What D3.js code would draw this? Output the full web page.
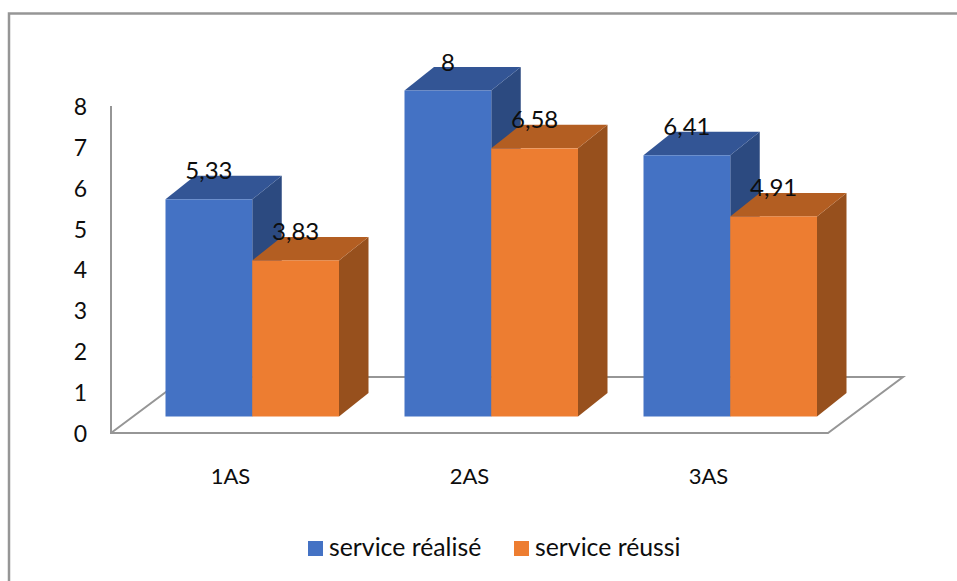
<!DOCTYPE html>
<html>
<head>
<meta charset="utf-8">
<script src="https://cdn.jsdelivr.net/npm/d3@7"></script>
<style>
  html, body { margin: 0; padding: 0; background: #fff; }
  svg { display: block; }
  text { font-family: Lato, "Open Sans", sans-serif; fill: #0d0d0d; }
</style>
</head>
<body>
<div id="chart"></div>
<script>
var categories = ["1AS", "2AS", "3AS"];
var seriesNames = ["service réalisé", "service réussi"];
var realise = [5.33, 8, 6.41];
var reussi = [3.83, 6.58, 4.91];
var yTicks = [0, 1, 2, 3, 4, 5, 6, 7, 8];

var width = 957, height = 581;
var colors = ["#4472c4", "#ed7d31"];
var topColors = ["#335595", "#b35e22"];
var sideColors = ["#2c4a80", "#97501d"];
var gridColor = "#969696";

// depth of the extruded bars and of the floor
var depth = {x: 29.5, y: -23.5};
var floorDepth = {x: 75, y: -56};

var svg = d3.select("#chart")
    .append("svg")
    .attr("width", width)
    .attr("height", height);

// outer frame, open on the right and at the bottom
svg.append("path")
    .attr("d", "M9,581V13.5H957")
    .attr("fill", "none")
    .attr("stroke", gridColor)
    .attr("stroke-width", 2.5);

var xScale0 = d3.scaleBand().domain(categories).range([111, 828]);
var xScale1 = d3.scaleBand().domain([0, 1]).range([0, 173.5]);
var barOffset = 54.5;

var yScale = d3.scaleLinear().domain([0, 8]).range([416.5, 90.5]);
var yAxisScale = d3.scaleLinear().domain([0, 8]).range([433, 106]);

// floor and left wall
var floorFront = yAxisScale(0);
var floorPath = d3.path();
floorPath.moveTo(xScale0.range()[0], yAxisScale(8));
floorPath.lineTo(xScale0.range()[0], floorFront);
floorPath.lineTo(xScale0.range()[1], floorFront);
floorPath.lineTo(xScale0.range()[1] + floorDepth.x, floorFront + floorDepth.y);
floorPath.lineTo(xScale0.range()[0] + floorDepth.x, floorFront + floorDepth.y);
floorPath.lineTo(xScale0.range()[0], floorFront);

svg.append("path")
    .attr("d", floorPath.toString())
    .attr("fill", "none")
    .attr("stroke", gridColor)
    .attr("stroke-width", 2);

// y axis labels only, the axis line comes from the wall above
var yAxis = d3.axisLeft(yAxisScale).tickValues(yTicks).tickSize(0).tickPadding(0);
var yG = svg.append("g")
    .attr("transform", "translate(87,1)")
    .call(yAxis);
yG.select(".domain").remove();
yG.selectAll("text")
    .style("font-family", null)
    .attr("font-size", 23);

// x axis labels
svg.selectAll(".cat-label")
    .data(categories)
    .enter().append("text")
    .attr("class", "cat-label")
    .attr("x", function(d) { return xScale0(d) + xScale0.bandwidth() / 2; })
    .attr("y", 484)
    .attr("text-anchor", "middle")
    .attr("font-size", 22)
    .text(function(d) { return d; });

var rows = [];
categories.forEach(function(c, i) {
    rows.push({cat: c, s: 0, value: realise[i]});
    rows.push({cat: c, s: 1, value: reussi[i]});
});

function barX(d) {
    return xScale0(d.cat) + barOffset + xScale1(d.s);
}

function poly(points) {
    return d3.line()(points) + "Z";
}

var bars = svg.selectAll(".bar")
    .data(rows)
    .enter().append("g")
    .attr("class", "bar");

// side face
bars.append("path")
    .attr("fill", function(d) { return sideColors[d.s]; })
    .attr("d", function(d) {
        var x = barX(d) + xScale1.bandwidth(), y0 = yScale(0), y1 = yScale(d.value);
        return poly([[x, y0], [x + depth.x, y0 + depth.y], [x + depth.x, y1 + depth.y], [x, y1]]);
    });

// top face
bars.append("path")
    .attr("fill", function(d) { return topColors[d.s]; })
    .attr("d", function(d) {
        var x = barX(d), w = xScale1.bandwidth(), y1 = yScale(d.value);
        return poly([[x, y1], [x + depth.x, y1 + depth.y], [x + w + depth.x, y1 + depth.y], [x + w, y1]]);
    });

// front face
bars.append("rect")
    .attr("fill", function(d) { return colors[d.s]; })
    .attr("x", barX)
    .attr("y", function(d) { return yScale(d.value); })
    .attr("width", xScale1.bandwidth())
    .attr("height", function(d) { return yScale(0) - yScale(d.value); });

// value labels, french decimal comma
svg.selectAll(".value-label")
    .data(rows)
    .enter().append("text")
    .attr("class", "value-label")
    .attr("x", function(d) { return barX(d) + xScale1.bandwidth() / 2; })
    .attr("y", function(d) { return yScale(d.value) - 20; })
    .attr("text-anchor", "middle")
    .attr("font-size", 24)
    .text(function(d) { return String(d.value).replace(".", ","); });

// legend
var legendX = [308, 514];
var legend = svg.selectAll(".legend")
    .data(seriesNames)
    .enter().append("g")
    .attr("class", "legend")
    .attr("transform", function(d, i) { return "translate(" + legendX[i] + ",541)"; });

legend.append("rect")
    .attr("width", 15)
    .attr("height", 15)
    .attr("fill", function(d, i) { return colors[i]; });

legend.append("text")
    .attr("x", 21)
    .attr("y", 14.5)
    .attr("font-size", 24.8)
    .text(function(d) { return d; });
</script>
</body>
</html>
